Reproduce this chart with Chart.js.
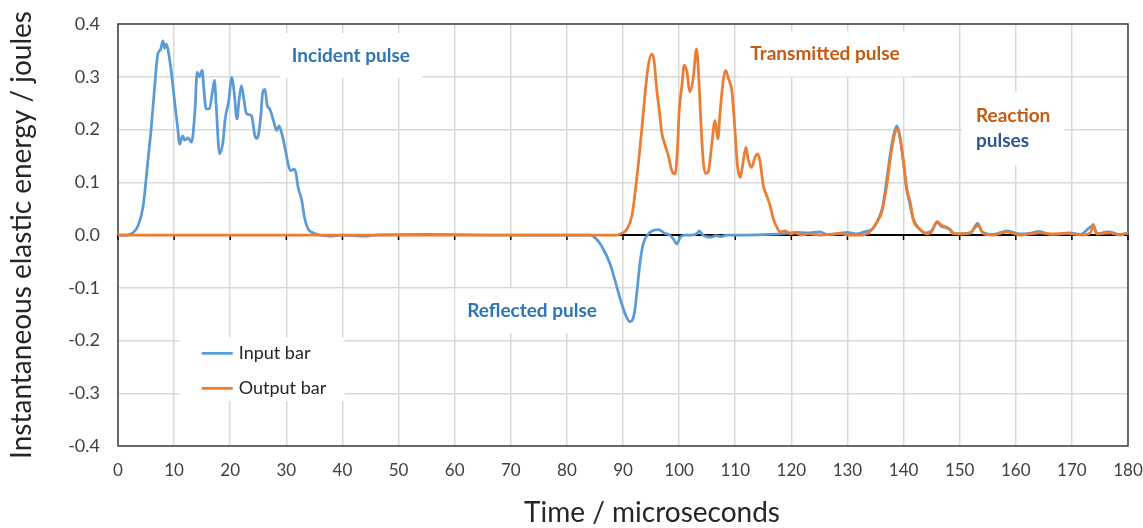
<!DOCTYPE html>
<html>
<head>
<meta charset="utf-8">
<script src="https://cdn.jsdelivr.net/npm/chart.js@4/dist/chart.umd.min.js"></script>
<style>
  html, body { margin: 0; padding: 0; background: #fff; }
</style>
</head>
<body>
<canvas id="chart" width="1143" height="528"></canvas>
<script>
// Input bar: incident pulse, reflected pulse, then the reaction pulses
const inputTime = [
  0, 1.5, 2.5, 3.6, 4.5, 5.3, 5.9, 6.5, 7.1, 7.6, 8.0, 8.3, 8.6, 8.9, 9.5, 10.1, 10.6, 11.0, 11.5, 11.9,
  12.5, 13.1, 13.7, 14.1, 14.5, 15.0, 15.3, 15.7, 16.3, 16.9, 17.2, 17.5, 18.1, 18.7, 19.1, 19.7, 20.3, 20.7,
  21.2, 21.6, 22.0, 22.5, 22.9, 23.8, 24.4, 24.8, 25.4, 25.8, 26.2, 26.6, 27.0, 27.7, 28.3, 28.7, 29.2, 29.8,
  30.4, 30.8, 31.4, 31.7, 32.1, 32.7, 33.3, 33.9, 34.8, 35.9, 37.7, 40, 44, 46, 55, 65, 75, 82, 84.1, 85.3,
  86.5, 87.7, 88.6, 89.5, 90.4, 91.2, 92.0, 92.5, 93.0, 93.6, 94.3, 95.1, 96.3, 97.5, 98.3, 99.0, 99.6, 100.2,
  101.1, 102.3, 103.2, 103.6, 104.2, 104.9, 105.8, 106.5, 107.5, 108.5, 112, 116, 119, 121, 123, 125, 126.5,
  128, 130, 131.5, 133, 134.5, 135.5, 136.3, 137.0, 137.8, 138.5, 138.8, 139.3, 139.9, 140.5, 141.1, 141.7,
  142.8, 144, 145, 146, 146.8, 147.6, 148.3, 149, 150.5, 152, 153.2, 154, 156, 158.5, 160.5, 162.5, 164.3,
  166, 168, 169.5, 171.5, 173.8, 174.5, 176.5, 178.5, 180
];
const inputEnergy = [
  0, 0, 0.003, 0.018, 0.056, 0.138, 0.200, 0.277, 0.343, 0.352, 0.368, 0.354, 0.362, 0.352, 0.309, 0.252, 0.207, 0.172, 0.188, 0.180,
  0.184, 0.176, 0.233, 0.309, 0.300, 0.312, 0.277, 0.239, 0.240, 0.277, 0.293, 0.245, 0.154, 0.176, 0.220, 0.252, 0.299, 0.271,
  0.220, 0.258, 0.283, 0.252, 0.230, 0.226, 0.188, 0.183, 0.220, 0.271, 0.276, 0.245, 0.240, 0.217, 0.198, 0.207, 0.192, 0.163,
  0.131, 0.122, 0.125, 0.118, 0.090, 0.068, 0.030, 0.011, 0.004, 0, -0.002, 0, -0.002, 0, 0.001, 0, 0, 0, 0, -0.008,
  -0.027, -0.055, -0.087, -0.121, -0.150, -0.164, -0.150, -0.106, -0.055, -0.017, -0.001, 0.007, 0.010, 0.003, 0, -0.008, -0.017, -0.004,
  0, 0, 0.003, 0.008, 0, -0.003, -0.004, -0.001, -0.003, 0, 0, 0.001, 0.003, 0.005, 0.004, 0.006, 0.001,
  0.002, 0.005, 0.002, 0.006, 0.012, 0.030, 0.055, 0.105, 0.165, 0.200, 0.207, 0.190, 0.145, 0.090, 0.060, 0.032,
  0.012, 0.004, 0.008, 0.024, 0.016, 0.014, 0.010, 0.003, 0.002, 0.004, 0.022, 0.006, 0.001, 0.008, 0.002, 0.003, 0.007,
  0.001, 0.002, 0.004, 0.001, 0.018, 0.002, 0.006, 0.001, 0.004
];

// Output bar: transmitted pulse, then the reaction pulses
const outputTime = [
  0, 89, 89.5, 90.7, 91.6, 92.1, 92.7, 93.3, 93.9, 94.5, 95.1, 95.5, 96.0, 96.5, 96.9, 97.5, 98.1, 98.7, 99.3,
  99.7, 100.0, 100.5, 100.9, 101.4, 101.9, 102.5, 103.1, 103.5, 103.9, 104.3, 104.7, 105.2, 105.8, 106.4, 106.9,
  107.3, 107.9, 108.3, 108.8, 109.4, 109.9, 110.4, 110.9, 111.3, 111.9, 112.3, 112.9, 113.5, 114.0, 114.4, 115.0,
  115.6, 116.2, 116.8, 117.4, 118.0, 118.9, 119.8, 120.7, 121.9, 123, 125, 127, 128.7, 130, 132.8, 134.0, 135.2,
  136.1, 137.0, 137.8, 138.5, 138.9, 139.4, 140.0, 140.6, 141.2, 141.7, 142.9, 144.1, 145.0, 146.0, 146.8, 147.6,
  148.3, 148.7, 150.1, 151.8, 153.3, 154.2, 155.9, 158.4, 160.8, 162.5, 164.3, 166.7, 169.1, 171.8, 173.3, 173.8,
  174.4, 176.8, 178.6, 180
];
const outputEnergy = [
  0, 0, 0.002, 0.011, 0.037, 0.075, 0.131, 0.195, 0.264, 0.321, 0.343, 0.334, 0.277, 0.233, 0.195, 0.170, 0.150, 0.122, 0.116,
  0.163, 0.233, 0.283, 0.322, 0.309, 0.271, 0.296, 0.353, 0.300, 0.210, 0.140, 0.117, 0.120, 0.170, 0.217, 0.182,
  0.233, 0.296, 0.312, 0.296, 0.274, 0.207, 0.131, 0.109, 0.131, 0.166, 0.144, 0.128, 0.147, 0.154, 0.141, 0.094,
  0.075, 0.056, 0.030, 0.015, 0.006, 0.008, 0.002, 0.004, 0, 0.002, 0, 0.001, 0.003, 0, 0, 0.006, 0.024,
  0.043, 0.094, 0.157, 0.195, 0.201, 0.182, 0.138, 0.087, 0.062, 0.030, 0.011, 0.002, 0.006, 0.026, 0.018, 0.015,
  0.010, 0.003, 0.002, 0.004, 0.018, 0.003, 0, 0.006, 0, 0.002, 0.004, 0.002, 0.003, 0, 0.004, 0.020,
  0.002, 0.004, 0, 0.004
];

const xMin = 0, xMax = 180, xStep = 10;
const yMin = -0.4, yMax = 0.4, yStep = 0.1;

const FONT = 'Lato, "Open Sans", sans-serif';
const GRID = '#d9d9d9';
const X_TITLE = 'Time / microseconds';

// text boxes placed in data units
const notes = [
  { lines: [['Incident pulse', '#2E75B6']], x: 41.5, y: 0.34, padX: 12, padY: 10, align: 'center' },
  { lines: [['Transmitted pulse', '#C55A11']], x: 126.0, y: 0.343, padX: 12, padY: 10, align: 'center' },
  { lines: [['Reaction', '#C55A11'], ['pulses', '#2F5597']], x: 152.9, y: 0.202, padX: 14, padY: 12, align: 'left' },
  { lines: [['Reflected pulse', '#2E75B6']], x: 73.8, y: -0.144, padX: 12, padY: 10, align: 'center' }
];
const legendBox = { x0: 11.0, x1: 40.4, y0: -0.194, y1: -0.315 };

const toPoints = (ts, vs) => ts.map((t, i) => ({ x: t, y: vs[i] }));

const framePlugin = {
  id: 'frame',
  beforeDatasetsDraw(chart) {
    const { ctx, chartArea: a, scales } = chart;
    const y0 = scales.y.getPixelForValue(0);
    ctx.save();
    ctx.strokeStyle = '#404040';
    ctx.lineWidth = 1.5;
    ctx.strokeRect(a.left, a.top, a.right - a.left, a.bottom - a.top);
    // small ticks hanging under the zero line
    ctx.strokeStyle = '#000';
    ctx.lineWidth = 1.5;
    for (let t = xMin; t <= xMax; t += xStep) {
      const px = scales.x.getPixelForValue(t);
      ctx.beginPath();
      ctx.moveTo(px, y0);
      ctx.lineTo(px, y0 + 5);
      ctx.stroke();
    }
    ctx.restore();
  }
};

const notesPlugin = {
  id: 'notes',
  afterDatasetsDraw(chart) {
    const { ctx, scales, chartArea: a } = chart;
    ctx.save();
    ctx.font = 'bold 19px ' + FONT;
    ctx.textBaseline = 'middle';
    ctx.textAlign = 'left';
    const lh = 25;
    notes.forEach(n => {
      const cx = scales.x.getPixelForValue(n.x);
      const cy = scales.y.getPixelForValue(n.y);
      const w = Math.max(...n.lines.map(l => ctx.measureText(l[0]).width));
      const h = lh * n.lines.length;
      const left = n.align === 'center' ? cx - w / 2 : cx;
      ctx.fillStyle = '#fff';
      ctx.fillRect(left - n.padX, cy - h / 2 - n.padY, w + 2 * n.padX, h + 2 * n.padY);
      n.lines.forEach((l, i) => {
        ctx.fillStyle = l[1];
        const lx = n.align === 'center' ? cx - ctx.measureText(l[0]).width / 2 : cx;
        ctx.fillText(l[0], lx, cy - h / 2 + lh * (i + 0.5));
      });
    });

    // legend
    const lx0 = scales.x.getPixelForValue(legendBox.x0);
    const lx1 = scales.x.getPixelForValue(legendBox.x1);
    const ly0 = scales.y.getPixelForValue(legendBox.y0);
    const ly1 = scales.y.getPixelForValue(legendBox.y1);
    ctx.fillStyle = '#fff';
    ctx.fillRect(lx0, ly0, lx1 - lx0, ly1 - ly0);
    ctx.font = '18px ' + FONT;
    chart.data.datasets.slice().sort((p, q) => p.legendRank - q.legendRank).forEach((ds, i) => {
      const y = ly0 + 16 + i * 35;
      ctx.strokeStyle = ds.borderColor;
      ctx.lineWidth = 2.75;
      ctx.beginPath();
      ctx.moveTo(lx0 + 22, y);
      ctx.lineTo(lx0 + 53, y);
      ctx.stroke();
      ctx.fillStyle = '#262626';
      ctx.fillText(ds.label, lx0 + 59, y);
    });

    // x axis title, set a little right of the plot centre
    ctx.font = '28px ' + FONT;
    ctx.textAlign = 'center';
    ctx.fillStyle = '#262626';
    ctx.fillText(X_TITLE, (a.left + a.right) / 2 + 29, 513);
    ctx.restore();
  }
};

new Chart(document.getElementById('chart').getContext('2d'), {
  type: 'line',
  data: {
    datasets: [
      {
        label: 'Output bar',
        data: toPoints(outputTime, outputEnergy),
        borderColor: '#ED7D31',
        borderWidth: 2.75,
        pointRadius: 0,
        cubicInterpolationMode: 'monotone',
        order: 0,
        legendRank: 1
      },
      {
        label: 'Input bar',
        data: toPoints(inputTime, inputEnergy),
        borderColor: '#5B9BD5',
        borderWidth: 2.75,
        pointRadius: 0,
        cubicInterpolationMode: 'monotone',
        order: 1,
        legendRank: 0
      }
    ]
  },
  options: {
    responsive: false,
    animation: false,
    layout: { padding: { top: 24, right: 15, left: 0, bottom: 0 } },
    plugins: { legend: { display: false }, tooltip: { enabled: false } },
    scales: {
      x: {
        type: 'linear',
        min: xMin,
        max: xMax,
        afterFit: s => { s.height = 82; s.paddingLeft = 0; s.paddingRight = 0; },
        ticks: { stepSize: xStep, color: '#404040', font: { family: FONT, size: 17 }, padding: 14, maxRotation: 0 },
        grid: { color: GRID, lineWidth: 1.5, drawTicks: false },
        border: { display: false }
      },
      y: {
        min: yMin,
        max: yMax,
        afterFit: s => { s.width = 118; s.paddingTop = 0; s.paddingBottom = 0; },
        ticks: {
          stepSize: yStep, color: '#404040', font: { family: FONT, size: 18 }, padding: 18,
          callback: v => (Math.round(v * 10) / 10).toFixed(1)
        },
        grid: {
          drawTicks: false,
          color: c => (c.tick && Math.abs(c.tick.value) < 1e-9 ? '#000' : GRID),
          lineWidth: c => (c.tick && Math.abs(c.tick.value) < 1e-9 ? 2 : 1.5)
        },
        border: { display: false },
        title: { display: true, text: 'Instantaneous elastic energy / joules', color: '#262626',
                 font: { family: FONT, size: 28 }, padding: { top: 5, bottom: 0 } }
      }
    }
  },
  plugins: [framePlugin, notesPlugin]
});
</script>
</body>
</html>
